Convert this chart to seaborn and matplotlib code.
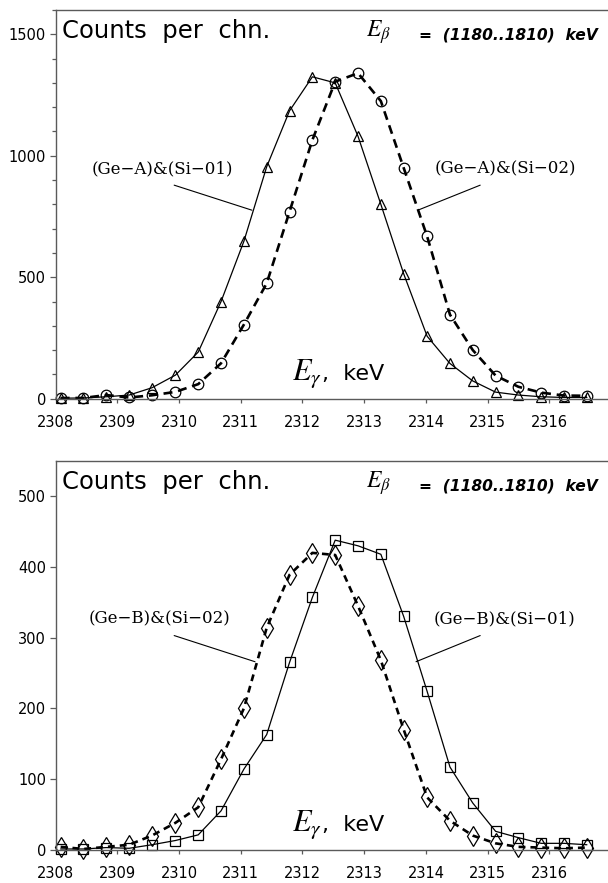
import numpy as np
import pandas as pd
import matplotlib
matplotlib.use("Agg")
import matplotlib.pyplot as plt
from matplotlib.ticker import MultipleLocator, NullLocator
from matplotlib.transforms import offset_copy
import seaborn as sns

# ---------------- data ----------------
energy = [2308.08, 2308.45, 2308.82, 2309.19, 2309.56, 2309.94, 2310.31, 2310.68,
          2311.05, 2311.42, 2311.79, 2312.16, 2312.53, 2312.90, 2313.27, 2313.64,
          2314.02, 2314.39, 2314.76, 2315.13, 2315.50, 2315.87, 2316.24, 2316.61]

geA_si01 = [2, 3, 8, 15, 45, 97, 192, 400, 648, 955, 1185, 1325, 1300, 1080, 800, 514,
            257, 145, 73, 27, 15, 8, 5, 5]
geA_si02 = [3, 3, 15, 5, 14, 28, 60, 146, 305, 475, 770, 1065, 1305, 1340, 1225, 950,
            668, 346, 200, 95, 49, 25, 13, 12]

geB_si01 = [1, 1, 3, 2, 7, 13, 21, 55, 114, 163, 265, 357, 438, 430, 418, 330,
            224, 117, 66, 26, 17, 9, 9, 7]
geB_si02 = [4, 1, 4, 7, 20, 38, 60, 128, 200, 314, 389, 420, 417, 345, 268, 170,
            74, 41, 20, 9, 4, 3, 2, 3]

x_ticks = [2308, 2309, 2310, 2311, 2312, 2313, 2314, 2315, 2316]
header_left = "Counts  per  chn."
header_right = "=  (1180..1810)  keV"
labels_top = ["(Ge\u2212A)&(Si\u221201)", "(Ge\u2212A)&(Si\u221202)"]
labels_bot = ["(Ge\u2212B)&(Si\u221202)", "(Ge\u2212B)&(Si\u221201)"]

# ---------------- style ----------------
sns.set_theme(style="white")
plt.rcParams["font.family"] = ["DejaVu Sans"]
plt.rcParams["mathtext.fontset"] = "stix"
plt.rcParams["text.color"] = "black"

fig = plt.figure(figsize=(6.08, 8.83), dpi=100)
W, H = 608.0, 883.0
left = 55.7 / W
width = (611.0 - 55.7) / W
height = 388.7 / H
ax1 = fig.add_axes([left, (H - 398.7) / H, width, height])
ax2 = fig.add_axes([left, (H - 849.7) / H, width, height])

spine_col = "#5a5a5a"


def style_axes(ax, ymax, ymajor, yminor):
    ax.set_xlim(2308, 2317)
    ax.set_ylim(0, ymax)
    ax.set_xticks(x_ticks)
    ax.yaxis.set_major_locator(MultipleLocator(ymajor))
    if yminor:
        ax.yaxis.set_minor_locator(MultipleLocator(yminor))
    else:
        ax.yaxis.set_minor_locator(NullLocator())
    ax.xaxis.set_minor_locator(NullLocator())
    for s in ["left", "top", "bottom"]:
        ax.spines[s].set_color(spine_col)
        ax.spines[s].set_linewidth(1.0)
    ax.spines["right"].set_visible(False)
    ax.tick_params(axis="y", which="major", direction="out", length=4.5, width=0.9,
                   color=spine_col, pad=2.5, labelsize=10.5, labelcolor="black",
                   left=True)
    ax.tick_params(axis="y", which="minor", direction="out", length=3, width=0.9,
                   color=spine_col, left=True)
    ax.tick_params(axis="x", which="major", direction="out", length=3, width=0.9,
                   color=spine_col, pad=8.5, labelsize=10.5, labelcolor="black",
                   bottom=True)
    ax.set_xlabel("")
    ax.set_ylabel("")
    ax.grid(False)
    ax.set_facecolor("white")


def draw(ax, y, marker, ms, solid, dash):
    df = pd.DataFrame({"E": energy, "N": y})
    kw = dict(color="black", marker=marker, markersize=ms, markerfacecolor="none",
              markeredgecolor="black", markeredgewidth=0.9, clip_on=False)
    if solid:
        sns.lineplot(data=df, x="E", y="N", ax=ax, linewidth=0.9, linestyle="-", **kw)
    else:
        sns.lineplot(data=df, x="E", y="N", ax=ax, linewidth=1.9,
                     linestyle=(0, dash), **kw)


# top panel
draw(ax1, geA_si02, "o", 7.6, False, (3.4, 2.2))
draw(ax1, geA_si01, "^", 7.4, True, None)
style_axes(ax1, 1600, 500, 100)

# bottom panel
draw(ax2, geB_si02, "d", 10.5, False, (2.6, 1.9))
draw(ax2, geB_si01, "s", 7.2, True, None)
style_axes(ax2, 550, 100, None)

fig.canvas.draw()
renderer = fig.canvas.get_renderer()


def headers(ax):
    ax.text(0.0108, 0.929, header_left, transform=ax.transAxes, fontsize=17.5,
            ha="left", va="baseline", color="black")
    ax.text(0.559, 0.931, r"$E_\beta$", transform=ax.transAxes, fontsize=17,
            ha="left", va="baseline", color="black")
    ax.text(0.976, 0.923, header_right, transform=ax.transAxes, fontsize=11.2,
            ha="right", va="baseline", style="italic", weight="bold", color="black")
    eg = ax.text(0.4255, 0.049, r"$E_\gamma$", transform=ax.transAxes, fontsize=22,
                 ha="left", va="baseline", color="black")
    bb = eg.get_window_extent(renderer=renderer)
    x_end = ax.transAxes.inverted().transform((bb.x1, bb.y0))[0]
    ax.text(x_end, 0.049, ",  keV", transform=ax.transAxes, fontsize=16,
            ha="left", va="baseline", color="black")


headers(ax1)
headers(ax2)


def label(ax, text, center, start, end):
    ax.text(center[0], center[1], text, fontsize=12, family="DejaVu Serif",
            ha="center", va="center", color="black")
    ax.annotate("", xy=end, xytext=start,
                arrowprops=dict(arrowstyle="-", lw=0.8, color="black",
                                shrinkA=0, shrinkB=0))


label(ax1, labels_top[0], (2309.73, 945), (2309.92, 879), (2311.18, 776))
label(ax1, labels_top[1], (2315.28, 945), (2314.88, 879), (2313.87, 776))
label(ax2, labels_bot[0], (2309.69, 326), (2309.92, 303), (2311.23, 266))
label(ax2, labels_bot[1], (2315.28, 326), (2314.88, 303), (2313.84, 266))

fig.savefig("out.png", dpi=100, facecolor="white")
